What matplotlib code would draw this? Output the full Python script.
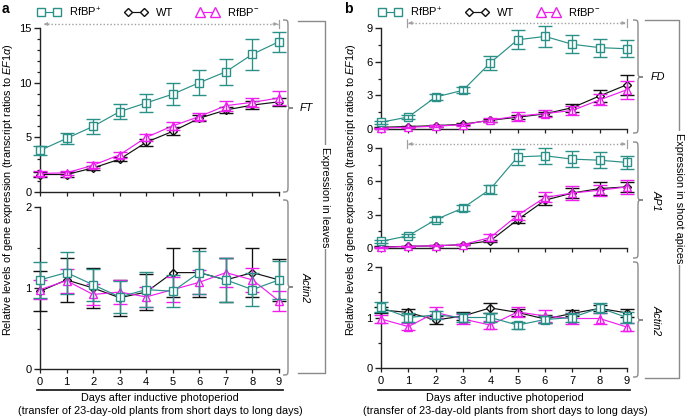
import matplotlib
matplotlib.use('Agg')
import matplotlib.pyplot as plt
from matplotlib.path import Path
from matplotlib.patches import PathPatch
from matplotlib.lines import Line2D
import matplotlib.transforms as mtransforms
from matplotlib.ticker import MultipleLocator

plt.rcParams['font.family'] = ['Liberation Sans', 'DejaVu Sans']
plt.rcParams['mathtext.fontset'] = 'custom'
plt.rcParams['mathtext.rm'] = 'Liberation Sans'
plt.rcParams['mathtext.it'] = 'Liberation Sans:italic'

# ---------------- data ----------------
days = [0, 1, 2, 3, 4, 5, 6, 7, 8, 9]
series_labels = ['RfBP$^{+}$', 'WT', 'RfBP$^{-}$']

# panel a, FT (leaves)
a_ft_plus = [3.8, 4.9, 6.0, 7.35, 8.15, 8.95, 10.0, 11.0, 12.6, 13.75]
a_ft_plus_err = [0.4, 0.5, 0.65, 0.7, 0.85, 1.0, 1.15, 1.2, 1.4, 0.9]
a_ft_wt = [1.6, 1.6, 2.2, 3.0, 4.55, 5.55, 6.75, 7.5, 7.95, 8.25]
a_ft_wt_err = [0.2, 0.2, 0.2, 0.2, 0.3, 0.35, 0.3, 0.3, 0.35, 0.35]
a_ft_minus = [1.7, 1.75, 2.45, 3.4, 5.0, 6.05, 6.9, 7.9, 8.2, 8.6]
a_ft_minus_err = [0.2, 0.2, 0.25, 0.3, 0.3, 0.35, 0.35, 0.45, 0.4, 0.6]

# panel a, Actin2 (leaves)
a_act_plus = [1.10, 1.19, 1.04, 0.89, 0.98, 0.96, 1.19, 1.10, 0.98, 1.10]
a_act_plus_err = [0.22, 0.26, 0.2, 0.2, 0.22, 0.2, 0.27, 0.27, 0.2, 0.23]
a_act_wt = [0.96, 1.10, 1.00, 0.88, 0.95, 1.19, 1.19, 1.10, 1.19, 1.10]
a_act_wt_err = [0.25, 0.27, 0.25, 0.22, 0.22, 0.3, 0.3, 0.27, 0.3, 0.26]
a_act_minus = [0.98, 1.09, 0.92, 0.95, 0.89, 0.98, 1.07, 1.19, 1.10, 0.84]
a_act_minus_err = [0.12, 0.15, 0.13, 0.15, 0.12, 0.15, 0.15, 0.18, 0.15, 0.12]

# panel b, FD (shoot apices)
b_fd_plus = [0.6, 1.07, 2.85, 3.45, 5.9, 7.95, 8.25, 7.55, 7.25, 7.15]
b_fd_plus_err = [0.15, 0.15, 0.25, 0.25, 0.6, 0.85, 0.9, 0.8, 0.8, 0.75]
b_fd_wt = [0.15, 0.22, 0.3, 0.42, 0.78, 1.05, 1.35, 1.9, 2.95, 3.95]
b_fd_wt_err = [0.05, 0.05, 0.1, 0.1, 0.15, 0.2, 0.2, 0.35, 0.5, 0.9]
b_fd_minus = [0.08, 0.15, 0.25, 0.38, 0.8, 1.15, 1.38, 1.65, 2.6, 3.5]
b_fd_minus_err = [0.05, 0.05, 0.1, 0.1, 0.15, 0.4, 0.3, 0.4, 0.5, 0.8]

# panel b, AP1 (shoot apices)
b_ap1_plus = [0.6, 1.1, 2.55, 3.6, 5.3, 8.2, 8.3, 8.0, 7.9, 7.7]
b_ap1_plus_err = [0.15, 0.15, 0.2, 0.25, 0.4, 0.7, 0.7, 0.7, 0.7, 0.6]
b_ap1_wt = [0.1, 0.15, 0.2, 0.3, 0.65, 2.55, 4.3, 4.95, 5.35, 5.5]
b_ap1_wt_err = [0.05, 0.05, 0.05, 0.05, 0.1, 0.3, 0.4, 0.45, 0.6, 0.45]
b_ap1_minus = [0.05, 0.15, 0.2, 0.3, 0.95, 2.95, 4.55, 4.95, 5.2, 5.5]
b_ap1_minus_err = [0.05, 0.05, 0.05, 0.05, 0.3, 0.4, 0.45, 0.6, 0.5, 0.6]

# panel b, Actin2 (shoot apices)
b_act_plus = [1.2, 1.0, 1.05, 1.0, 1.0, 0.85, 0.96, 1.0, 1.19, 1.0]
b_act_plus_err = [0.1, 0.08, 0.08, 0.08, 0.08, 0.07, 0.07, 0.08, 0.1, 0.1]
b_act_wt = [1.15, 1.1, 0.95, 1.03, 1.19, 1.1, 0.97, 1.08, 1.18, 1.09]
b_act_wt_err = [0.06, 0.06, 0.07, 0.07, 0.1, 0.07, 0.08, 0.06, 0.06, 0.08]
b_act_minus = [0.97, 0.82, 1.1, 0.97, 0.85, 1.11, 1.03, 0.98, 0.98, 0.81]
b_act_minus_err = [0.07, 0.07, 0.1, 0.1, 0.08, 0.1, 0.12, 0.1, 0.1, 0.08]

# ---------------- style ----------------
TEAL = '#2a9088'
MAG = '#ee1fee'
BLK = '#111111'
GRAY = '#8a8a8a'
FS = 7.5
LW = 0.85

W, H = 685, 418
fig = plt.figure(figsize=(6.85, 4.18), dpi=100)


def fx(x):
    return x / W


def fy(y):
    return 1 - y / H


def make_axes(x0, x1, ytop, ybot, ymax, major, minor, xlabels):
    ax = fig.add_axes([fx(x0), fy(ybot), (x1 - x0) / W, (ybot - ytop) / H])
    ax.set_xlim(0, 9)
    ax.set_ylim(0, ymax)
    for s in ['top', 'right']:
        ax.spines[s].set_visible(False)
    for s in ['left', 'bottom']:
        ax.spines[s].set_linewidth(1.0)
        ax.spines[s].set_color('#222222')
    ax.set_xticks(days)
    ax.yaxis.set_major_locator(MultipleLocator(major))
    ax.yaxis.set_minor_locator(MultipleLocator(minor))
    ax.tick_params(axis='y', which='major', direction='out', length=4, width=1,
                   labelsize=FS + 0.5, pad=2, color='#222222')
    ax.tick_params(axis='y', which='minor', direction='out', length=2.5, width=0.9,
                   color='#222222')
    ax.tick_params(axis='x', direction='out', length=3, width=0.9, labelsize=FS + 0.5,
                   pad=3, color='#222222', labelbottom=xlabels)
    ax.patch.set_alpha(0)
    return ax


def plot_series(ax, y, e, color, marker, ms, z):
    cont = ax.errorbar(days, y, yerr=e, color=color, marker=marker, ms=ms,
                       mfc='white', mec=color, mew=1.0, lw=LW, elinewidth=LW + 0.1,
                       capsize=5, capthick=LW + 0.1, zorder=z)
    for art in cont.get_children():
        art.set_clip_on(False)
        art.set_zorder(z)


def plot_panel(ax, plus, plus_e, wt, wt_e, minus, minus_e):
    plot_series(ax, wt, wt_e, BLK, 'D', 4.2, 3)
    plot_series(ax, minus, minus_e, MAG, '^', 6.0, 4)
    plot_series(ax, plus, plus_e, TEAL, 's', 5.5, 5)


# panel a axes
ax_ft = make_axes(40, 279, 28, 192, 15, 5, 1, False)
ax_aa = make_axes(40, 279, 207, 369, 2, 1, 0.5, True)
# panel b axes
ax_fd = make_axes(381, 627, 28, 129, 9, 3, 1.5, False)
ax_ap = make_axes(381, 627, 148, 248, 9, 3, 1.5, False)
ax_ba = make_axes(381, 627, 267, 368, 2, 1, 0.5, True)

plot_panel(ax_ft, a_ft_plus, a_ft_plus_err, a_ft_wt, a_ft_wt_err, a_ft_minus, a_ft_minus_err)
plot_panel(ax_aa, a_act_plus, a_act_plus_err, a_act_wt, a_act_wt_err, a_act_minus, a_act_minus_err)
plot_panel(ax_fd, b_fd_plus, b_fd_plus_err, b_fd_wt, b_fd_wt_err, b_fd_minus, b_fd_minus_err)
plot_panel(ax_ap, b_ap1_plus, b_ap1_plus_err, b_ap1_wt, b_ap1_wt_err, b_ap1_minus, b_ap1_minus_err)
plot_panel(ax_ba, b_act_plus, b_act_plus_err, b_act_wt, b_act_wt_err, b_act_minus, b_act_minus_err)

# legends
handles = [
    Line2D([], [], color=TEAL, marker='s', ms=6.0, mfc='white', mew=1.0, lw=LW),
    Line2D([], [], color=BLK, marker='D', ms=4.5, mfc='white', mew=1.0, lw=LW),
    Line2D([], [], color=MAG, marker='^', ms=6.5, mfc='white', mew=1.0, lw=LW),
]
for xleft in (38, 379):
    fig.legend(handles, series_labels, loc='center left',
               bbox_to_anchor=(fx(xleft), fy(12)), ncol=3, frameon=False,
               fontsize=FS + 0.5, numpoints=2, handlelength=2.0, handletextpad=0.8,
               columnspacing=2.1, borderpad=0, borderaxespad=0)

# panel letters
fig.text(fx(2), fy(9), 'a', fontweight='bold', fontsize=10, va='center', ha='left')
fig.text(fx(344), fy(9), 'b', fontweight='bold', fontsize=10, va='center', ha='left')

# y labels
ylab = 'Relative levels of gene expression (transcript ratios to $\\mathit{EF1\\alpha}$)'
fig.text(fx(8), fy(190), ylab, rotation=90, va='center', ha='center', fontsize=FS + 0.3)
fig.text(fx(351), fy(190), ylab, rotation=90, va='center', ha='center', fontsize=FS + 0.3)

# x labels with rule
for xc, x0, x1 in ((160, 37, 283), (505, 378, 630)):
    fig.add_artist(Line2D([fx(x0), fx(x1)], [fy(390), fy(390)], color='#222222', lw=1.3))
    fig.text(fx(xc), fy(398), 'Days after inductive photoperiod', ha='center', va='center',
             fontsize=FS + 0.3)
    fig.text(fx(xc), fy(411), '(transfer of 23-day-old plants from short days to long days)',
             ha='center', va='center', fontsize=FS + 0.3)


def brace(x0, yt, yb, ym, w=10, r=7, color=GRAY):
    xm = x0 + w / 2
    pts = [(x0, yt), (xm, yt), (xm, yt), (xm, yt + r),
           (xm, ym - r),
           (xm, ym), (xm, ym), (x0 + w, ym),
           (xm, ym), (xm, ym), (xm, ym + r),
           (xm, yb - r),
           (xm, yb), (xm, yb), (x0, yb)]
    codes = [Path.MOVETO, Path.CURVE4, Path.CURVE4, Path.CURVE4,
             Path.LINETO,
             Path.CURVE4, Path.CURVE4, Path.CURVE4,
             Path.CURVE4, Path.CURVE4, Path.CURVE4,
             Path.LINETO,
             Path.CURVE4, Path.CURVE4, Path.CURVE4]
    verts = [(fx(px), fy(py)) for px, py in pts]
    fig.add_artist(PathPatch(Path(verts, codes), fill=False, ec=color, lw=1.0,
                             transform=fig.transFigure))


def bracket(x0, x1, yt, yb, text, ymid):
    fig.add_artist(Line2D([fx(x0), fx(x1), fx(x1), fx(x0)],
                          [fy(yt), fy(yt), fy(yb), fy(yb)], color=GRAY, lw=1.0))
    fig.text(fx(x1), fy(ymid), text, rotation=-90, ha='center', va='center',
             fontsize=FS + 0.3, bbox=dict(fc='white', ec='none', pad=1.5))


# panel a braces
brace(283, 20, 192, 108)
fig.text(fx(300), fy(108), 'FT', style='italic', fontsize=FS + 0.3, va='center', ha='left')
brace(283, 200, 375, 287)
fig.text(fx(306), fy(287), 'Actin2', style='italic', rotation=-90, fontsize=FS + 0.3,
         va='center', ha='center')
bracket(298, 325, 21, 373, 'Expression in leaves', 197)

# panel b braces
brace(633, 20, 133, 77)
fig.text(fx(651), fy(77), 'FD', style='italic', fontsize=FS + 0.3, va='center', ha='left')
brace(633, 142, 258, 200)
fig.text(fx(657), fy(200), 'AP1', style='italic', rotation=-90, fontsize=FS + 0.3,
         va='center', ha='center')
brace(633, 262, 377, 320)
fig.text(fx(657), fy(320), 'Actin2', style='italic', rotation=-90, fontsize=FS + 0.3,
         va='center', ha='center')
bracket(645, 679, 20, 378, 'Expression in shoot apices', 198)


# dotted range arrows
def range_arrow(ax, d0, d1, ypix, left_bar):
    tr = mtransforms.blended_transform_factory(ax.transData, fig.transFigure)
    y = fy(ypix)
    ax.plot([d0, d1], [y, y], transform=tr, ls=(0, (1, 1.5)), color='#a0a0a0', lw=1.0,
            clip_on=False)
    for tip, tail in ((d0, d0 + 0.2), (d1, d1 - 0.2)):
        ax.annotate('', xy=(tip, y), xytext=(tail, y), xycoords=tr, textcoords=tr,
                    arrowprops=dict(arrowstyle='-|>', color='#a0a0a0', lw=0.6,
                                    mutation_scale=5, shrinkA=0, shrinkB=0),
                    annotation_clip=False)
    bars = [d1 + 0.05] + ([d0 - 0.05] if left_bar else [])
    for b in bars:
        ax.plot([b, b], [fy(ypix - 4), fy(ypix + 4)], transform=tr, color='#a0a0a0',
                lw=0.9, clip_on=False)


range_arrow(ax_ft, 0.15, 8.95, 24, False)
range_arrow(ax_fd, 1.0, 8.95, 23, True)
range_arrow(ax_ap, 1.0, 8.95, 144, True)

fig.savefig('out.png', dpi=100)
